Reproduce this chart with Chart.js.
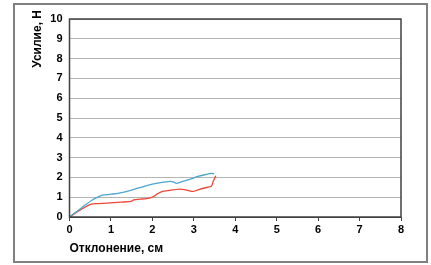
<!DOCTYPE html>
<html>
<head>
<meta charset="utf-8">
<script src="https://cdn.jsdelivr.net/npm/chart.js@4"></script>
<style>
  body { margin: 0; background: #fff; }
  #frame { position: absolute; left: 13px; top: 3px; width: 411px; height: 256px; border: 2px solid #808080; }
</style>
</head>
<body>
<div id="frame"><canvas id="chart"></canvas></div>
<script>
// deflection, cm / force, N
const loadDeflection = [0, 0.2, 0.4, 0.55, 0.68, 0.8, 1.0, 1.2, 1.5, 1.8, 2.0, 2.2, 2.42, 2.5, 2.58, 2.7, 2.9, 3.1, 3.3, 3.42, 3.49];
const loadForce      = [0, 0.32, 0.64, 0.86, 1.0, 1.1, 1.15, 1.21, 1.36, 1.55, 1.66, 1.74, 1.8, 1.78, 1.7, 1.78, 1.9, 2.05, 2.15, 2.2, 2.18];

const unloadDeflection = [0, 0.25, 0.52, 0.7, 0.9, 1.25, 1.49, 1.55, 1.7, 1.85, 2.0, 2.1, 2.2, 2.34, 2.66, 2.85, 2.98, 3.1, 3.3, 3.42, 3.47, 3.53];
const unloadForce      = [0, 0.34, 0.65, 0.68, 0.7, 0.75, 0.79, 0.87, 0.9, 0.93, 1.0, 1.14, 1.26, 1.32, 1.41, 1.35, 1.29, 1.37, 1.49, 1.55, 1.8, 2.08];

const xTicks = [0, 1, 2, 3, 4, 5, 6, 7, 8];
const yTicks = [0, 1, 2, 3, 4, 5, 6, 7, 8, 9, 10];

const xTitle = 'Отклонение, см';
const yTitle = 'Усилие, Н';

const toPoints = (xs, ys) => xs.map((x, i) => ({ x: x, y: ys[i] }));

// plot box + rotated y title
const framePlugin = {
  id: 'framePlugin',
  afterDraw(chart) {
    const { ctx, chartArea } = chart;
    ctx.save();
    ctx.strokeStyle = '#404040';
    ctx.lineWidth = 1.5;
    ctx.strokeRect(chartArea.left, chartArea.top, chartArea.right - chartArea.left, chartArea.bottom - chartArea.top);
    ctx.translate(chartArea.left - 32, chartArea.top - 9);
    ctx.rotate(-Math.PI / 2);
    ctx.font = 'bold 12px "Liberation Sans", Arial, sans-serif';
    ctx.fillStyle = '#000';
    ctx.textAlign = 'right';
    ctx.textBaseline = 'middle';
    ctx.fillText(yTitle, 0, 0);
    ctx.restore();
  }
};

const ctx = document.getElementById('chart').getContext('2d');
new Chart(ctx, {
  type: 'scatter',
  data: {
    datasets: [
      {
        label: 'load',
        data: toPoints(loadDeflection, loadForce),
        showLine: true,
        borderColor: '#4aa6cf',
        borderWidth: 1.3,
        pointRadius: 0,
        tension: 0.3
      },
      {
        label: 'unload',
        data: toPoints(unloadDeflection, unloadForce),
        showLine: true,
        borderColor: '#ee4634',
        borderWidth: 1.3,
        pointRadius: 0,
        tension: 0.3
      }
    ]
  },
  options: {
    responsive: true,
    maintainAspectRatio: false,
    animation: false,
    layout: { padding: { left: 0, top: 14, right: 25, bottom: 0 } },
    plugins: {
      legend: { display: false },
      tooltip: { enabled: false }
    },
    scales: {
      x: {
        type: 'linear',
        min: 0,
        max: 8,
        afterBuildTicks: (s) => { s.ticks = xTicks.map(v => ({ value: v })); },
        afterFit: (s) => { s.height = 44; },
        ticks: {
          color: '#000',
          padding: 2,
          font: { family: '"Liberation Sans", Arial, sans-serif', size: 11, weight: 'bold' }
        },
        grid: { drawOnChartArea: false, tickLength: 4, color: '#404040' },
        border: { color: '#404040' },
        title: {
          display: true,
          text: xTitle,
          align: 'start',
          color: '#000',
          padding: { top: 0, bottom: 5 },
          font: { family: '"Liberation Sans", Arial, sans-serif', size: 12, weight: 'bold' }
        }
      },
      y: {
        type: 'linear',
        min: 0,
        max: 10,
        afterBuildTicks: (s) => { s.ticks = yTicks.map(v => ({ value: v })); },
        afterFit: (s) => { s.width = 54.5; },
        ticks: {
          color: '#000',
          padding: 7,
          font: { family: '"Liberation Sans", Arial, sans-serif', size: 11, weight: 'bold' }
        },
        grid: { color: '#b4b4b4', drawTicks: false, lineWidth: 1 },
        border: { color: '#404040' }
      }
    }
  },
  plugins: [framePlugin]
});
</script>
</body>
</html>
